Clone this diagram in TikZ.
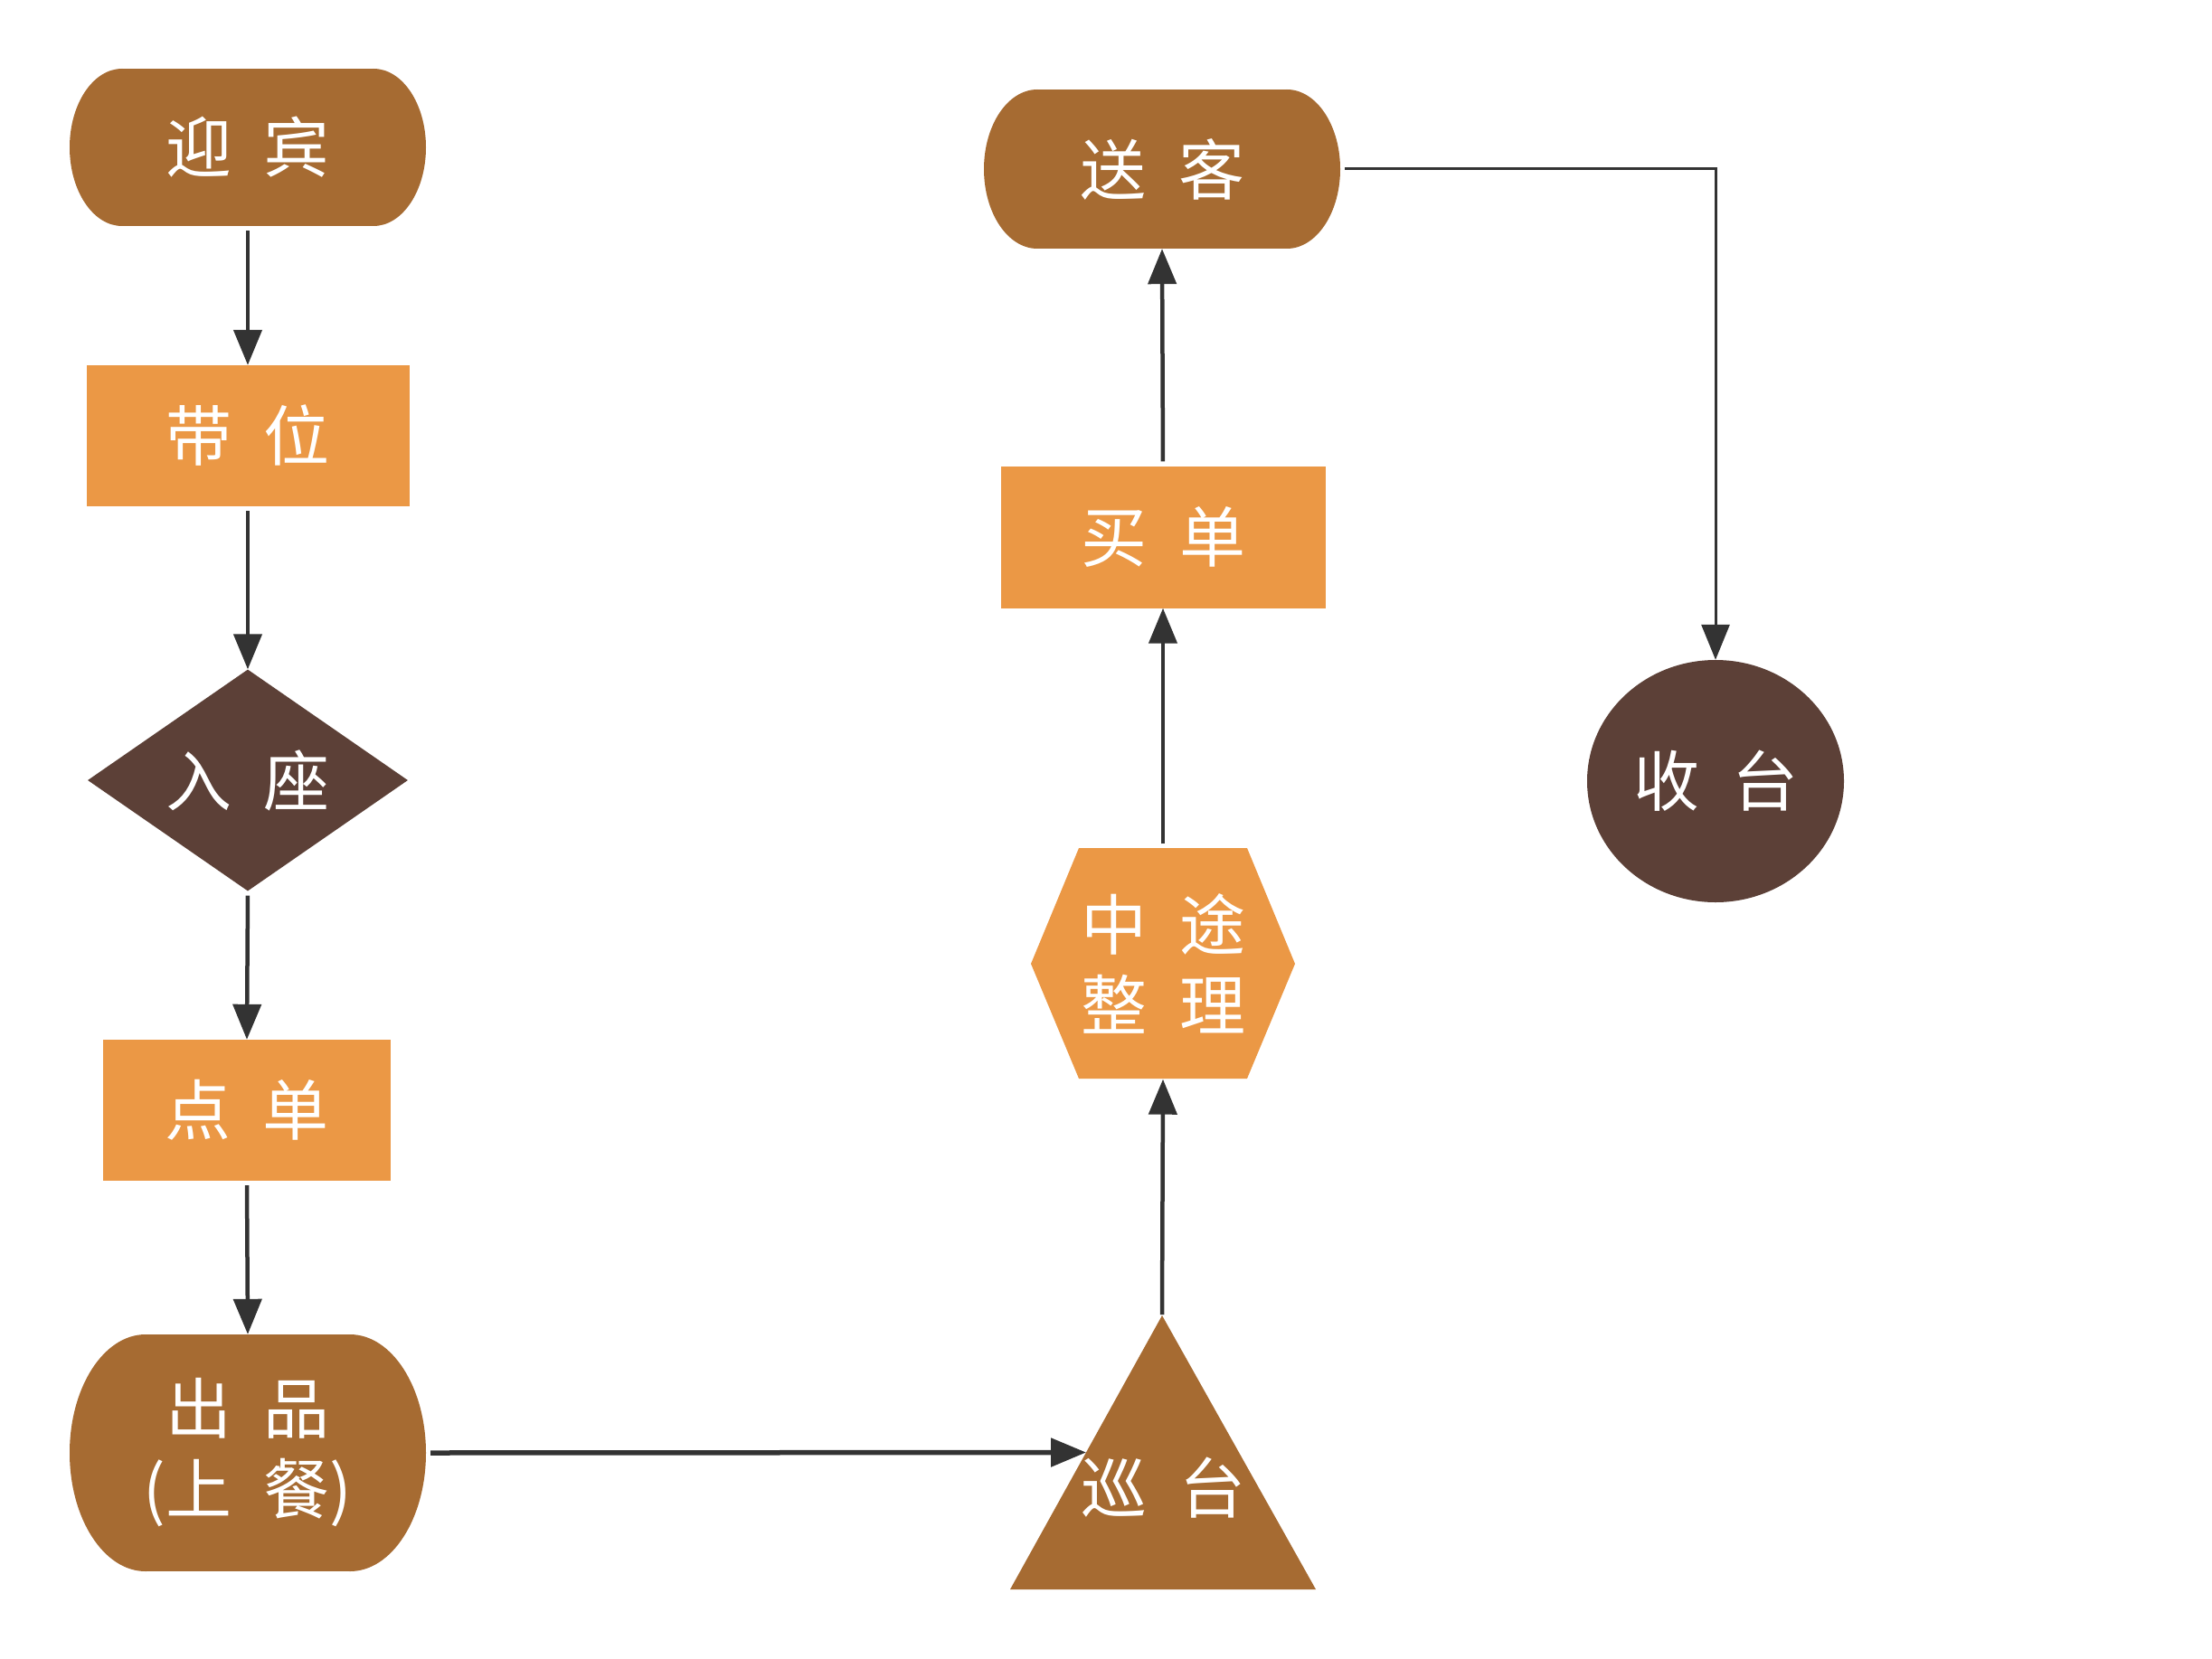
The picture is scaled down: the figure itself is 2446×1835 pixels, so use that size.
\documentclass[tikz,border=0pt]{standalone}
\usepackage{fontspec}
\newfontfamily\cjk{Noto Sans CJK SC}
\usetikzlibrary{arrows.meta,shapes.geometric,calc}
\definecolor{cbrown}{HTML}{A66B32}
\definecolor{corange}{HTML}{EB9845}
\definecolor{cdark}{HTML}{5C4037}
\definecolor{carrow}{HTML}{333333}
\newcommand\gap{\hspace{36pt}}
\begin{document}
\begin{tikzpicture}[x=1pt,y=-1pt,
  lbl/.style={text=white,font=\cjk\fontsize{73}{89}\selectfont,align=center,inner sep=0pt},
  conn/.style={draw=carrow,line width=4.5pt,-{Triangle[length=39pt,width=31pt]},shorten <=5pt},
  stad/.style={fill=cbrown}]
\useasboundingbox[fill=white] (0,0) rectangle (2446,1835);

% 迎宾 stadium
\fill[stad] (274-197+58,163-87) rectangle (274+197-58,163+87);
\fill[stad] (274-197+58,163) ellipse[x radius=58,y radius=87];
\fill[stad] (274+197-58,163) ellipse[x radius=58,y radius=87];
\node[lbl,minimum width=394pt,minimum height=174pt] (yb) at (274,163) {迎\gap 宾};

% 带位
\node[lbl,fill=corange,minimum width=357pt,minimum height=156pt] (dw) at (274,482) {带\gap 位};

% 入座
\node[lbl,diamond,aspect=1.45,fill=cdark,minimum width=354pt,minimum height=245pt] (rz) at (274,863) {入\gap 座};

% 点单
\node[lbl,fill=corange,minimum width=318pt,minimum height=156pt] (dd) at (273,1228) {点\gap 单};

% 出品 stadium
\fill[stad] (274-197+84,1607-131) rectangle (274+197-84,1607+131);
\fill[stad] (274-197+84,1607) ellipse[x radius=84,y radius=131];
\fill[stad] (274+197-84,1607) ellipse[x radius=84,y radius=131];
\node[lbl,minimum width=394pt,minimum height=262pt] (cp) at (274,1607) {出\gap 品\\(上\gap 餐)};

% 巡台 triangle
\coordinate (apex) at (1285,1455);
\coordinate (bl) at (1117,1758);
\coordinate (br) at (1455,1758);
\fill[cbrown] (apex) -- (bl) -- (br) -- cycle;
\node[lbl] (xt) at (1286,1646) {巡\gap 台};

% 中途整理 hexagon
\fill[corange] (1193,938) -- (1379,938) -- (1432,1066) -- (1379,1193) -- (1193,1193) -- (1140,1066) -- cycle;
\node[lbl,minimum width=292pt,minimum height=255pt] (zt) at (1286,1066) {中\gap 途\\整\gap 理};

% 买单
\node[lbl,fill=corange,minimum width=359pt,minimum height=157pt] (md) at (1286,594) {买\gap 单};

% 送客 stadium
\fill[stad] (1285-197+59,187-88) rectangle (1285+197-59,187+88);
\fill[stad] (1285-197+59,187) ellipse[x radius=59,y radius=88];
\fill[stad] (1285+197-59,187) ellipse[x radius=59,y radius=88];
\node[lbl,minimum width=394pt,minimum height=176pt] (sk) at (1285,187) {送\gap 客};

% 收台
\node[lbl,ellipse,fill=cdark,minimum width=284pt,minimum height=268pt] (st) at (1897,864) {收\gap 台};

% connectors
\draw[conn] (yb.south) -- (dw.north);
\draw[conn] (dw.south) -- (rz.north);
\draw[conn] (rz.south) -- (dd.north);
\draw[conn] (dd.south) -- (cp.north);
\draw[conn,line width=5.5pt] (cp.east) -- ($(apex)!0.5!(bl)$);
\draw[conn,shorten <=1pt] (apex) -- (zt.south);
\draw[conn] (zt.north) -- (md.south);
\draw[conn] (md.north) -- (sk.south);
\draw[conn,line width=3pt] (sk.east) -| (st.north);
\end{tikzpicture}
\end{document}
